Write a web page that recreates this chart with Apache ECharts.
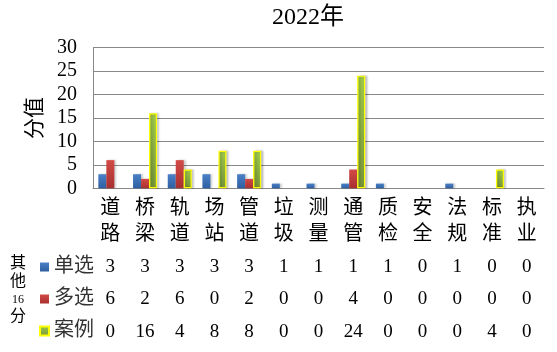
<!DOCTYPE html>
<html><head><meta charset="utf-8">
<script src="https://cdn.jsdelivr.net/npm/echarts@6/dist/echarts.min.js"></script>
<style>html,body{margin:0;padding:0;background:#fff}#c{width:557px;height:352px}</style>
</head><body><div id="c"></div>
<script>
const categories = ['道路','桥梁','轨道','场站','管道','垃圾','测量','通管','质检','安全','法规','标准','执业'];
const seriesNames = ['单选','多选','案例'];
const danxuan = [3,3,3,3,3,1,1,1,1,0,1,0,0];
const duoxuan = [6,2,6,0,2,0,0,4,0,0,0,0,0];
const anli = [0,16,4,8,8,0,0,24,0,0,0,4,0];
const yTicks = [0,5,10,15,20,25,30];
const title = '2022年';
const yName = '分值';
const sideNote = ['其','他','16','分'];

const FONT = '"Liberation Serif", "Noto Sans CJK SC", serif';
const grad = (a, b) => new echarts.graphic.LinearGradient(0, 0, 0, 1, [{offset: 0, color: a}, {offset: 1, color: b}]);
const nz = arr => arr.map(v => v === 0 ? null : v);
const gridBottomY = 188.3;
const tableAxis = (vals, offset) => ({
  type: 'category', data: vals.map(String), position: 'bottom', offset: offset,
  axisLine: {show: false}, axisTick: {show: false},
  axisLabel: {interval: 0, margin: 0, fontSize: 19, lineHeight: 20, color: '#000', fontFamily: FONT}
});

const chart = echarts.init(document.getElementById('c'), null, {renderer: 'canvas'});
chart.setOption({
  animation: false,
  backgroundColor: '#fff',
  title: {text: title, left: 267, top: 1, textStyle: {fontSize: 24, fontWeight: 'normal', color: '#000', fontFamily: FONT}},
  grid: {left: 93, right: 13, top: 47.5, bottom: 352 - gridBottomY},
  legend: {
    orient: 'vertical', left: 34, top: 248, itemWidth: 9, itemHeight: 9, itemGap: 4,
    icon: 'rect',
    data: seriesNames,
    textStyle: {fontSize: 20, lineHeight: 20, color: '#333', fontFamily: FONT, padding: [8, 0, 0, 0]}
  },
  graphic: [{
    type: 'text', left: 10, top: 256,
    style: {
      text: `{a|${sideNote[0]}}\n{a|${sideNote[1]}}\n{b|${sideNote[2]}}\n{a|${sideNote[3]}}`,
      rich: {a: {fontSize: 16, lineHeight: 18, fontFamily: FONT, fill: '#000', align: 'center'},
             b: {fontSize: 12, lineHeight: 17, fontFamily: FONT, fill: '#000', align: 'center'}}
    }
  }],
  xAxis: [
    {type: 'category', data: categories, position: 'bottom',
     axisLine: {lineStyle: {color: '#888'}}, axisTick: {show: false},
     axisLabel: {interval: 0, margin: 7, fontSize: 20, lineHeight: 26, color: '#000', fontFamily: FONT,
                 formatter: v => v.split('').join('\n')}},
    tableAxis(danxuan, 69),
    tableAxis(duoxuan, 101),
    tableAxis(anli, 134)
  ],
  yAxis: {
    type: 'value', min: yTicks[0], max: yTicks[yTicks.length - 1], interval: 5,
    name: yName, nameLocation: 'middle', nameRotate: 90, nameGap: 44,
    nameTextStyle: {fontSize: 21, color: '#000', fontFamily: FONT},
    axisLine: {show: true, lineStyle: {color: '#888'}}, axisTick: {show: false},
    axisLabel: {margin: 16, fontSize: 20, color: '#000', fontFamily: FONT},
    splitLine: {lineStyle: {color: '#888', width: 1}}
  },
  series: [
    {name: seriesNames[0], type: 'bar', data: nz(danxuan), barWidth: 8, barGap: '0%',
     itemStyle: {color: grad('#4a80c8', '#2f5f9f'), shadowColor: 'rgba(0,0,0,0.2)', shadowOffsetX: 2, shadowBlur: 2}},
    {name: seriesNames[1], type: 'bar', data: nz(duoxuan), barWidth: 8, barGap: '0%',
     itemStyle: {color: grad('#d24a46', '#a83030'), shadowColor: 'rgba(0,0,0,0.2)', shadowOffsetX: 2, shadowBlur: 2}},
    {name: seriesNames[2], type: 'bar', data: nz(anli), barWidth: 8, barGap: '0%',
     itemStyle: {color: grad('#9fc84a', '#76953a'), borderColor: '#ffff00', borderWidth: 1.2, shadowColor: 'rgba(0,0,0,0.2)', shadowOffsetX: 2, shadowBlur: 2}}
  ]
});
</script></body></html>
